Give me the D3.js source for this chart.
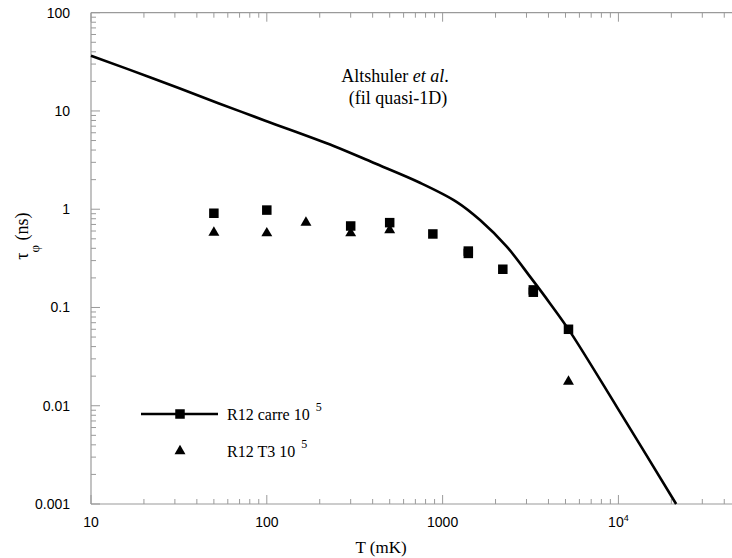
<!DOCTYPE html>
<html><head><meta charset="utf-8">
<script src="https://cdn.jsdelivr.net/npm/d3@7"></script>
<style>body{margin:0;background:#fff}svg{display:block}</style>
</head><body><svg id="c" width="732" height="558"></svg>
<script>
// ---- data ----
const curveT   = [10, 22, 53, 98, 240, 404, 743, 1200, 1633, 2317, 3142, 4083, 5306, 9770, 21300];
const curveTau = [36.5, 21.8, 12.0, 7.96, 4.4, 2.97, 1.86, 1.19, 0.776, 0.416, 0.206, 0.11, 0.0568, 0.0098, 0.001];
const squareT   = [50, 100, 300, 500, 880, 1400, 1400, 2200, 3280, 3280, 5200];
const squareTau = [0.91, 0.98, 0.675, 0.73, 0.56, 0.375, 0.355, 0.245, 0.151, 0.143, 0.06];
const triT   = [50, 100, 167, 300, 500, 5200];
const triTau = [0.58, 0.57, 0.73, 0.57, 0.615, 0.0176];
const xMajor = [10, 100, 1000, 10000];
const xMajorLabels = ["10", "100", "1000", "10^4"];
const yMajor = [0.001, 0.01, 0.1, 1, 10, 100];
const yMajorLabels = ["0.001", "0.01", "0.1", "1", "10", "100"];
const legendLabels = ["R12 carre 10", "R12 T3 10"];
const legendExp = "5";
const annotation = ["Altshuler ", "et al", ".", "(fil quasi-1D)"];

const svg = d3.select("#c");
const x = d3.scaleLog().domain([10, 50000]).range([91, 741.3]);
const y = d3.scaleLog().domain([0.001, 100]).range([504, 12.7]);
const axisCol = "#9a9a9a";
const sans = "'Liberation Sans', Arial, sans-serif";
const serif = "'Liberation Serif', 'Times New Roman', serif";

const xMinor = [], yMinor = [];
for (let d = 10; d < 50000; d *= 10) for (let k = 2; k <= 9; k++) if (d * k < 50000) xMinor.push(d * k);
for (let d = 0.001; d < 100; d *= 10) for (let k = 2; k <= 9; k++) yMinor.push(d * k);

const g = svg.append("g");
g.append("line").attr("x1", 91).attr("x2", 741).attr("y1", 504).attr("y2", 504).attr("stroke", axisCol).attr("stroke-width", 1.2);
g.append("line").attr("x1", 91).attr("x2", 741).attr("y1", 12.7).attr("y2", 12.7).attr("stroke", axisCol).attr("stroke-width", 1.2);
g.append("line").attr("x1", 91).attr("x2", 91).attr("y1", 12.7).attr("y2", 504).attr("stroke", axisCol).attr("stroke-width", 1.2);

function xt(vals, len) {
  vals.forEach(v => {
    const px = x(v);
    g.append("line").attr("x1", px).attr("x2", px).attr("y1", 504).attr("y2", 504 - len).attr("stroke", axisCol).attr("stroke-width", 1);
    g.append("line").attr("x1", px).attr("x2", px).attr("y1", 12.7).attr("y2", 12.7 + len).attr("stroke", axisCol).attr("stroke-width", 1);
  });
}
xt(xMinor, 5); xt(xMajor, 9);
function yt(vals, len) {
  vals.forEach(v => {
    const py = y(v);
    g.append("line").attr("x1", 91).attr("x2", 91 + len).attr("y1", py).attr("y2", py).attr("stroke", axisCol).attr("stroke-width", 1);
  });
}
yt(yMinor, 5); yt(yMajor, 9);

xMajor.forEach((v, i) => {
  const lab = xMajorLabels[i];
  const t = g.append("text").attr("x", x(v)).attr("y", 527).attr("text-anchor", "middle")
    .attr("font-family", sans).attr("font-size", 14).attr("fill", "#000");
  if (lab.includes("^")) {
    const [b, e] = lab.split("^");
    t.append("tspan").text(b);
    t.append("tspan").attr("dy", -6).attr("font-size", 9).text(e);
  } else t.text(lab);
});
yMajor.forEach((v, i) => {
  g.append("text").attr("x", 70).attr("y", y(v) + 5).attr("text-anchor", "end")
    .attr("font-family", sans).attr("font-size", 14).attr("fill", "#000").text(yMajorLabels[i]);
});

svg.append("text").attr("x", 381).attr("y", 553).attr("text-anchor", "middle")
  .attr("font-family", serif).attr("font-size", 17).text("T (mK)");
const yl = svg.append("text").attr("transform", "translate(28,236) rotate(-90)").attr("text-anchor", "middle")
  .attr("font-family", serif).attr("font-size", 18);
yl.append("tspan").text("τ");
yl.append("tspan").attr("dy", 11).attr("font-size", 13).text("φ");
yl.append("tspan").attr("dy", -11).text(" (ns)");

const line = d3.line().x(d => x(d[0])).y(d => y(d[1])).curve(d3.curveCatmullRom.alpha(0.5));
svg.append("path").datum(curveT.map((t, i) => [t, curveTau[i]]))
  .attr("d", line).attr("fill", "none").attr("stroke", "#000").attr("stroke-width", 2.6);

const sq = 9.5;
svg.selectAll("rect.sq").data(squareT.map((t, i) => [t, squareTau[i]])).enter().append("rect")
  .attr("x", d => x(d[0]) - sq / 2).attr("y", d => y(d[1]) - sq / 2).attr("width", sq).attr("height", sq).attr("fill", "#000");
const tri = d3.symbol().type(d3.symbolTriangle).size(52);
svg.selectAll("path.tri").data(triT.map((t, i) => [t, triTau[i]])).enter().append("path")
  .attr("d", tri).attr("transform", d => `translate(${x(d[0])},${y(d[1])})`).attr("fill", "#000");

svg.append("line").attr("x1", 141).attr("x2", 218).attr("y1", 414).attr("y2", 414).attr("stroke", "#000").attr("stroke-width", 2.6);
svg.append("rect").attr("x", 180 - sq / 2).attr("y", 414 - sq / 2).attr("width", sq).attr("height", sq).attr("fill", "#000");
svg.append("path").attr("d", tri).attr("transform", "translate(180,451)").attr("fill", "#000");
[414, 451].forEach((ly, i) => {
  const t = svg.append("text").attr("x", 227).attr("y", ly + 6).attr("font-family", serif).attr("font-size", 16);
  t.append("tspan").text(legendLabels[i]);
  t.append("tspan").attr("dx", 6).attr("dy", -9).attr("font-size", 12).text(legendExp);
});

const a1 = svg.append("text").attr("x", 395).attr("y", 82).attr("text-anchor", "middle").attr("font-family", serif).attr("font-size", 18);
a1.append("tspan").text(annotation[0]);
a1.append("tspan").attr("font-style", "italic").text(annotation[1]);
a1.append("tspan").text(annotation[2]);
svg.append("text").attr("x", 398).attr("y", 104).attr("text-anchor", "middle").attr("font-family", serif).attr("font-size", 18).text(annotation[3]);
</script></body></html>
